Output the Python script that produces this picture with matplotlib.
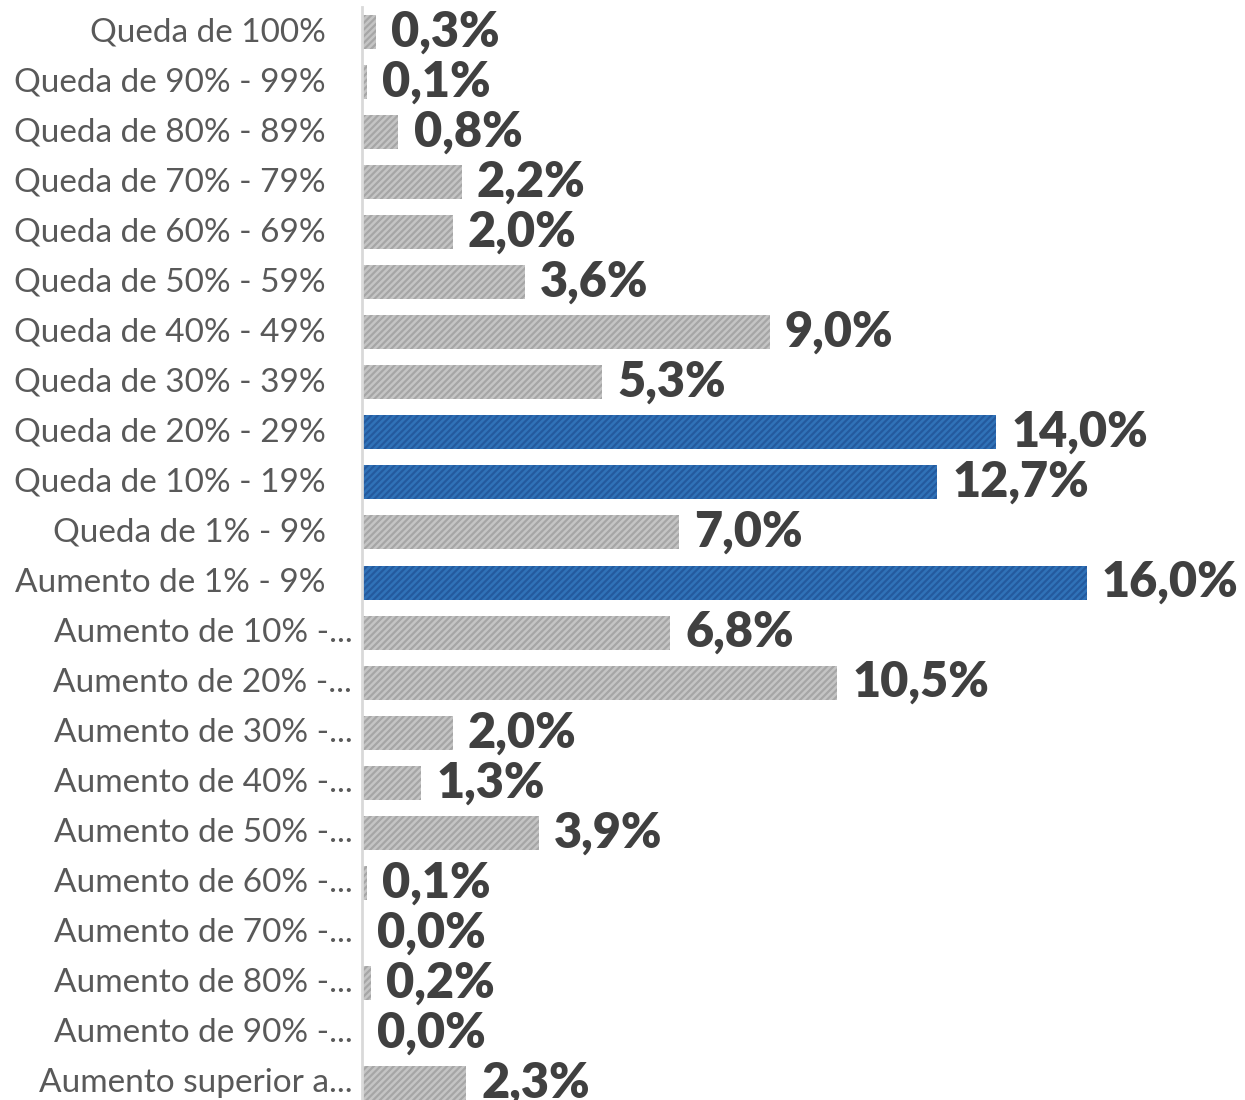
import matplotlib
matplotlib.use("Agg")
import matplotlib.pyplot as plt
import matplotlib.transforms as mtransforms

categorias = ["Queda de 100%", "Queda de 90% - 99%", "Queda de 80% - 89%",
              "Queda de 70% - 79%", "Queda de 60% - 69%", "Queda de 50% - 59%",
              "Queda de 40% - 49%", "Queda de 30% - 39%", "Queda de 20% - 29%",
              "Queda de 10% - 19%", "Queda de 1% - 9%", "Aumento de 1% - 9%",
              "Aumento de 10% -...", "Aumento de 20% -...", "Aumento de 30% -...",
              "Aumento de 40% -...", "Aumento de 50% -...", "Aumento de 60% -...",
              "Aumento de 70% -...", "Aumento de 80% -...", "Aumento de 90% -...",
              "Aumento superior a..."]
valores = [0.3, 0.1, 0.8, 2.2, 2.0, 3.6, 9.0, 5.3, 14.0, 12.7, 7.0, 16.0,
           6.8, 10.5, 2.0, 1.3, 3.9, 0.1, 0.0, 0.2, 0.0, 2.3]
destaque = ["Queda de 20% - 29%", "Queda de 10% - 19%", "Aumento de 1% - 9%"]

plt.rcParams['hatch.linewidth'] = 1.6

fig = plt.figure(figsize=(12.45, 11), dpi=100)
ax = fig.add_axes([362 / 1245, -8 / 1100, 1 - 362 / 1245, 1101 / 1100])

for i, (cat, v) in enumerate(zip(categorias, valores)):
    if cat in destaque:
        cor, listra = '#3072b8', '#245a9e'
    else:
        cor, listra = '#c4c4c4', '#a6a6a6'
    ax.barh(i, v, height=0.68, color=cor, edgecolor=listra, linewidth=0,
            hatch='/////')
    ax.annotate(f"{v:.1f}%".replace('.', ','), (v, i), xytext=(11, 0),
                textcoords='offset points', va='center', ha='left',
                fontsize=35, fontweight='heavy', family='Lato', color='#404040')

# rotulos das categorias
trans = mtransforms.blended_transform_factory(ax.transAxes, ax.transData)
for i, cat in enumerate(categorias):
    desloc = -7 if cat.endswith('...') else -26
    ax.annotate(cat, (0, i), xycoords=trans, xytext=(desloc, 0),
                textcoords='offset points', ha='right', va='center',
                fontsize=24, family='Lato', color='#595959')

ax.set_ylim(len(categorias) - 0.5, -0.5)
ax.set_xlim(0, 19.5)
ax.set_xticks([])
ax.set_yticks([])
for s in ['top', 'right', 'bottom']:
    ax.spines[s].set_visible(False)
ax.spines['left'].set_color('#d9d9d9')
ax.spines['left'].set_linewidth(2)

fig.savefig("out.png", dpi=100)
